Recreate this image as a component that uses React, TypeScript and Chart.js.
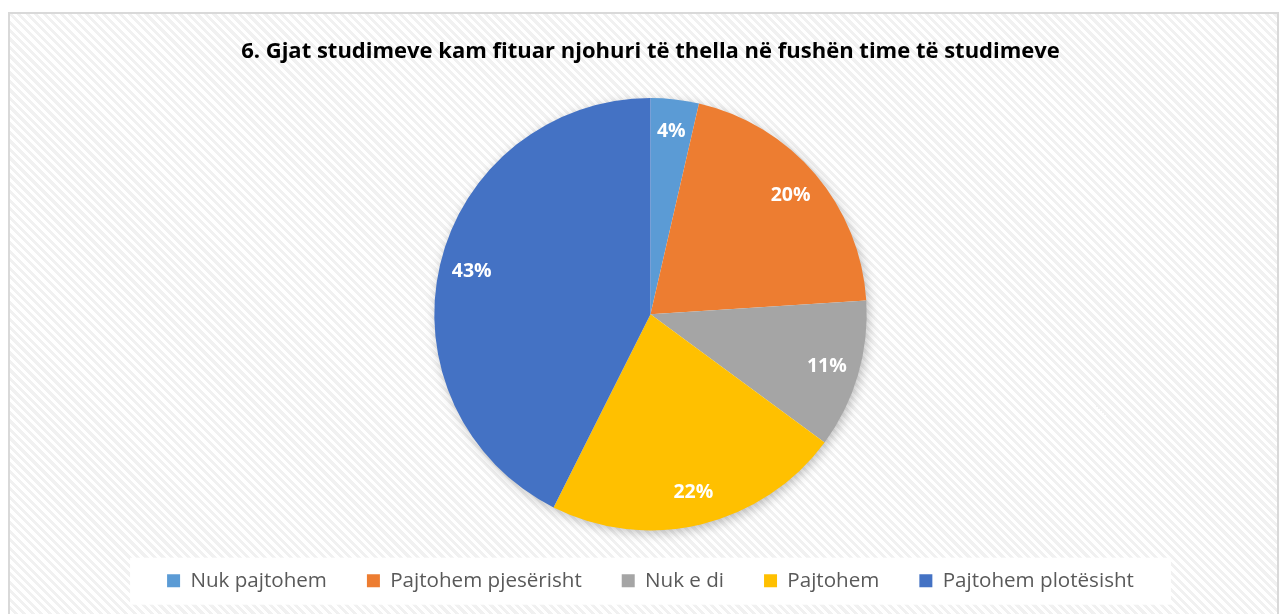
import React, { useEffect, useRef } from "react";
import { Chart, registerables } from "chart.js";

Chart.register(...registerables);

const TITLE = "6. Gjat studimeve kam fituar njohuri të thella në fushën time të studimeve";
const categories = ["Nuk pajtohem", "Pajtohem pjesërisht", "Nuk e di", "Pajtohem", "Pajtohem plotësisht"];
const shares = [3.6, 20.4, 11.1, 22.3, 42.6];
const colors = ["#5B9BD5", "#ED7D31", "#A5A5A5", "#FFC000", "#4472C4"];

const FONT = "'Open Sans', 'Liberation Sans', sans-serif";

const shadowPlugin = {
  id: "pieShadow",
  beforeDatasetsDraw(chart: any) {
    const meta = chart.getDatasetMeta(0);
    const arc = meta.data[0];
    if (!arc) return;
    const { x, y, outerRadius } = arc.getProps(["x", "y", "outerRadius"], true);
    const ctx = chart.ctx;
    ctx.save();
    ctx.shadowColor = "rgba(0,0,0,0.28)";
    ctx.shadowBlur = 12;
    ctx.shadowOffsetX = 2;
    ctx.shadowOffsetY = 3;
    ctx.fillStyle = "#ffffff";
    ctx.beginPath();
    ctx.arc(x, y, outerRadius - 1, 0, Math.PI * 2);
    ctx.fill();
    ctx.restore();
  },
};

const legendBgPlugin = {
  id: "legendBg",
  beforeDraw(chart: any) {
    const lg = chart.legend;
    if (!lg || !lg.legendHitBoxes || !lg.legendHitBoxes.length) return;
    const boxes = lg.legendHitBoxes;
    let l = Infinity, r = -Infinity, cy = 0;
    boxes.forEach((b: any) => {
      l = Math.min(l, b.left);
      r = Math.max(r, b.left + b.width);
      cy = b.top + b.height / 2;
    });
    const ctx = chart.ctx;
    ctx.save();
    ctx.fillStyle = "#ffffff";
    ctx.fillRect(l - 37, cy - 23, r - l + 74, 47);
    ctx.restore();
  },
};

const labelPlugin = {
  id: "sliceLabels",
  afterDatasetsDraw(chart: any) {
    const ctx = chart.ctx;
    const ds = chart.data.datasets[0];
    const total = (ds.data as number[]).reduce((a, b) => a + b, 0);
    const meta = chart.getDatasetMeta(0);
    ctx.save();
    ctx.fillStyle = "#ffffff";
    ctx.font = `bold 19.5px ${FONT}`;
    ctx.textAlign = "center";
    ctx.textBaseline = "middle";
    meta.data.forEach((arc: any, i: number) => {
      const { x, y, startAngle, endAngle, outerRadius } = arc.getProps(
        ["x", "y", "startAngle", "endAngle", "outerRadius"],
        true
      );
      const mid = (startAngle + endAngle) / 2;
      const r = outerRadius * 0.85;
      const pct = Math.round((ds.data[i] / total) * 100);
      ctx.fillText(pct + "%", x + Math.cos(mid) * r, y + Math.sin(mid) * r);
    });
    ctx.restore();
  },
};

export default function App() {
  const ref = useRef<HTMLCanvasElement>(null);
  useEffect(() => {
    if (!ref.current) return;
    const chart = new Chart(ref.current, {
      type: "pie",
      data: {
        labels: categories,
        datasets: [
          {
            data: shares,
            backgroundColor: colors,
            borderWidth: 0,
          },
        ],
      },
      options: {
        animation: false,
        responsive: false,
        maintainAspectRatio: false,
        layout: { padding: { left: 14, right: 0, top: 0, bottom: 13 } },
        plugins: {
          title: {
            display: true,
            text: TITLE,
            color: "#000000",
            font: { family: FONT, size: 22, weight: "bold" },
            padding: { top: 27, bottom: 32.6 },
          },
          legend: {
            position: "bottom",
            labels: {
              color: "#595959",
              font: { family: FONT, size: 20.6 },
              boxWidth: 13,
              boxHeight: 13,
              padding: 40,
            },
          },
          tooltip: { enabled: false },
        },
      },
      plugins: [legendBgPlugin, shadowPlugin, labelPlugin],
    });
    return () => chart.destroy();
  }, []);

  return (
    <div
      style={{
        position: "fixed",
        left: 8,
        top: 12,
        width: 1271,
        height: 602,
        boxSizing: "border-box",
        borderTop: "2px solid #d9d9d9",
        borderLeft: "2px solid #d9d9d9",
        borderRight: "2px solid #d9d9d9",
        background:
          "repeating-linear-gradient(45deg, #ffffff 0px, #ffffff 3px, #f1f1f1 3px, #f1f1f1 6px)",
        overflow: "hidden",
      }}
    >
      <canvas
        ref={ref}
        width={1271}
        height={602}
        style={{ position: "absolute", left: -2, top: -2, width: 1271, height: 602 }}
      />
    </div>
  );
}
